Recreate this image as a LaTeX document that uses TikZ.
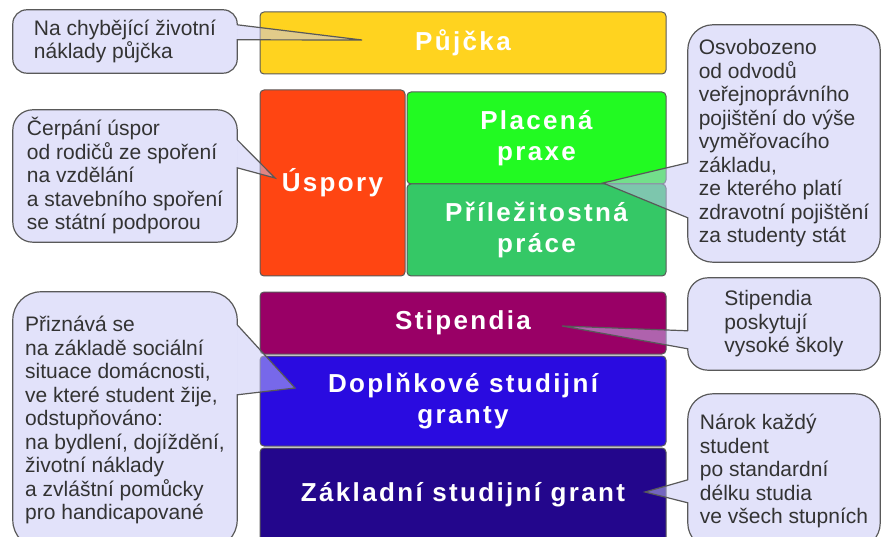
\documentclass[tikz,border=0pt]{standalone}
\usepackage{fontspec}
\usepackage{xcolor}
\usepackage{tikz}
\usetikzlibrary{calc}
\newfontfamily\tilefont[LetterSpace=9]{Liberation Sans}
\newfontfamily\notefont{Liberation Sans}
\definecolor{boxLoan}{HTML}{FFD31F}
\definecolor{boxSave}{HTML}{FF4512}
\definecolor{boxPaid}{HTML}{22FA22}
\definecolor{boxJob}{HTML}{35C866}
\definecolor{boxStip}{HTML}{990066}
\definecolor{boxExtra}{HTML}{2A0BE0}
\definecolor{boxBase}{HTML}{23068C}
\definecolor{noteFill}{HTML}{E2E2FA}
\definecolor{noteTint}{HTML}{C5C5F5}

\begin{document}
\begin{tikzpicture}[x=1pt, y=-1pt,
    tile/.style={rectangle, rounded corners=4pt, draw=black!65, line width=1pt, inner sep=0pt,
      text=white, font=\tilefont\bfseries\fontsize{26}{31}\selectfont, align=center},
    note/.style={rectangle, rounded corners=20pt, fill=noteFill, inner sep=0pt, align=left,
      text=black!80, font=\notefont\fontsize{21}{23.5}\selectfont},
    noteline/.style={draw=black!65, line width=1.2pt, line cap=round},
    tint/.style={fill=noteTint, fill opacity=0.5}
  ]
  \useasboundingbox (0,0) rectangle (883,537);

  % === Funding blocks ===
  \node[tile, fill=boxLoan, minimum width=406pt, minimum height=62pt] (loan) at (463,43) {Půjčka};
  \node[tile, fill=boxSave, minimum width=145pt, minimum height=186pt] (save) at (332.5,183) {Úspory};
  \node[tile, fill=boxPaid, minimum width=259pt, minimum height=92pt] (paid) at (536.5,138) {Placená\\praxe};
  \node[tile, fill=boxJob, minimum width=259pt, minimum height=92pt] (job) at (536.5,230) {Příležitostná\\práce};
  \node[tile, fill=boxStip, minimum width=406pt, minimum height=62pt] (stip) at (463,323) {Stipendia};
  \node[tile, fill=boxExtra, minimum width=406pt, minimum height=90pt] (extra) at (463,401) {Doplňkové studijní\\granty};
  \node[tile, fill=boxBase, minimum width=406pt, minimum height=93pt] (base) at (463,494.5) {Základní studijní grant};

  % === Notes ===
  \node[note, rounded corners=14pt, minimum width=224pt, minimum height=63pt] (n1) at (125,41.5)
    {Na chybějící životní\\náklady půjčka};
  \node[note, minimum width=224pt, minimum height=132pt] (n2) at (125,176)
    {Čerpání úspor\\od rodičů ze spoření\\na vzdělání\\a stavebního spoření\\se státní podporou};
  \node[note, rounded corners=25pt, minimum width=192pt, minimum height=237pt] (n3) at (784,143.5)
    {Osvobozeno\\od odvodů\\veřejnoprávního\\pojištění do výše\\vyměřovacího\\základu,\\ze kterého platí\\zdravotní pojištění\\za studenty stát};
  \node[note, rounded corners=28pt, minimum width=224pt, minimum height=256pt] (n4) at (125,420)
    {Přiznává se\\na základě sociální\\situace domácnosti,\\ve které student žije,\\odstupňováno:\\na bydlení, dojíždění,\\životní náklady\\a zvláštní pomůcky\\pro handicapované};
  \node[note, minimum width=192pt, minimum height=92pt] (n5) at (784,324)
    {Stipendia\\poskytují\\vysoké školy};
  \node[note, rounded corners=25pt, minimum width=192pt, minimum height=154pt] (n6) at (784,471)
    {Nárok každý\\student\\po standardní\\délku studia\\ve všech stupních};

  % pointer tips inside the blocks
  \coordinate (t1) at (362,40);
  \coordinate (t2) at (275,178);
  \coordinate (t3) at (603,183);
  \coordinate (t4) at (295,388);
  \coordinate (t5) at (562,326);
  \coordinate (t6) at (645,492);

  % pointer bases on the note edges
  \coordinate (n1a) at ($(n1.north east)+(0,15)$);  \coordinate (n1b) at ($(n1.north east)+(0,30)$);
  \coordinate (n2a) at ($(n2.north east)+(0,30)$);  \coordinate (n2b) at ($(n2.north east)+(0,58)$);
  \coordinate (n3a) at ($(n3.north west)+(0,138)$); \coordinate (n3b) at ($(n3.north west)+(0,193)$);
  \coordinate (n4a) at ($(n4.north east)+(0,33)$);  \coordinate (n4b) at ($(n4.north east)+(0,103)$);
  \coordinate (n5a) at ($(n5.north west)+(0,53)$);  \coordinate (n5b) at ($(n5.north west)+(0,71)$);
  \coordinate (n6a) at ($(n6.north west)+(0,86)$);  \coordinate (n6b) at ($(n6.north west)+(0,109)$);

  % === Pointers and outlines ===
  \fill[tint] (n1a) -- (t1) -- (n1b) -- cycle;
  \draw[noteline] (n1a) [rounded corners=14pt] -- (n1.north east) -- (n1.north west) -- (n1.south west)
    -- (n1.south east) [sharp corners] -- (n1b) -- (t1) -- (n1a);
  \fill[tint] (n2a) -- (t2) -- (n2b) -- cycle;
  \draw[noteline] (n2a) [rounded corners=20pt] -- (n2.north east) -- (n2.north west) -- (n2.south west)
    -- (n2.south east) [sharp corners] -- (n2b) -- (t2) -- (n2a);
  \fill[tint] (n3a) -- (t3) -- (n3b) -- cycle;
  \draw[noteline] (n3a) [rounded corners=25pt] -- (n3.north west) -- (n3.north east) -- (n3.south east)
    -- (n3.south west) [sharp corners] -- (n3b) -- (t3) -- (n3a);
  \fill[tint] (n4a) -- (t4) -- (n4b) -- cycle;
  \draw[noteline] (n4a) [rounded corners=28pt] -- (n4.north east) -- (n4.north west) -- (n4.south west)
    -- (n4.south east) [sharp corners] -- (n4b) -- (t4) -- (n4a);
  \fill[tint] (n5a) -- (t5) -- (n5b) -- cycle;
  \draw[noteline] (n5a) [rounded corners=20pt] -- (n5.north west) -- (n5.north east) -- (n5.south east)
    -- (n5.south west) [sharp corners] -- (n5b) -- (t5) -- (n5a);
  \fill[tint] (n6a) -- (t6) -- (n6b) -- cycle;
  \draw[noteline] (n6a) [rounded corners=25pt] -- (n6.north west) -- (n6.north east) -- (n6.south east)
    -- (n6.south west) [sharp corners] -- (n6b) -- (t6) -- (n6a);
\end{tikzpicture}
\end{document}
